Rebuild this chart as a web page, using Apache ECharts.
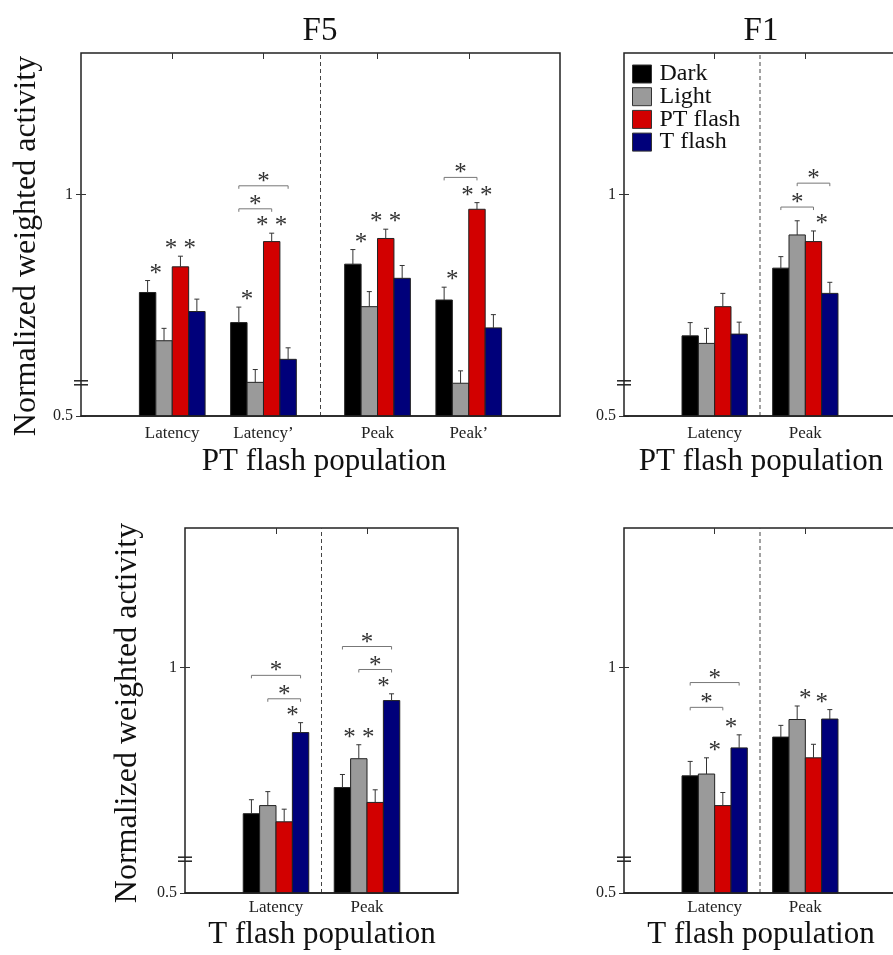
<!DOCTYPE html>
<html>
<head>
<meta charset="utf-8">
<title>Normalized weighted activity – F5 / F1</title>
<script src="https://cdn.jsdelivr.net/npm/echarts@6/dist/echarts.min.js"></script>
<style>
  html, body { margin: 0; padding: 0; background: #ffffff; }
  #chart { width: 893px; height: 955px; }
</style>
</head>
<body>
<div id="chart"></div>
<script>
// ---- condition names ----
const conditions = ['Dark', 'Light', 'PT flash', 'T flash'];

// ---- y axis tick labels ----
const yTickValues = [0.5, 1];
const yTickLabels = ['0.5', '1'];

// ---- F5, PT flash population ----
const f5PtCategories = ['Latency', 'Latency’', 'Peak', 'Peak’'];
const f5PtDark     = [0.779, 0.711, 0.843, 0.762];
const f5PtLight    = [0.670, 0.576, 0.747, 0.574];
const f5PtPT       = [0.837, 0.894, 0.901, 0.967];
const f5PtT        = [0.736, 0.628, 0.811, 0.699];
const f5PtDarkErr  = [0.027, 0.035, 0.033, 0.029];
const f5PtLightErr = [0.028, 0.029, 0.034, 0.028];
const f5PtPTErr    = [0.024, 0.019, 0.021, 0.015];
const f5PtTErr     = [0.028, 0.026, 0.029, 0.030];
// [category, condition, side (-1 left edge, 0 centre, 1 right edge), text]
const f5PtMarks = [[0, 0, 1, '*'], [0, 2, 0, '* *'], [1, 0, 1, '*'], [1, 2, 0, '* *'],
                   [2, 0, 1, '*'], [2, 2, 0, '* *'], [3, 0, 1, '*'], [3, 2, 0, '* *']];
// [category, from condition, to condition, level, text]
const f5PtBrackets = [[1, 0, 3, 1.020, '*'], [1, 0, 2, 0.968, '*'], [3, 0, 2, 1.039, '*']];

// ---- F1, PT flash population ----
const f1PtCategories = ['Latency', 'Peak'];
const f1PtDark     = [0.681, 0.834];
const f1PtLight    = [0.664, 0.909];
const f1PtPT       = [0.747, 0.894];
const f1PtT        = [0.685, 0.777];
const f1PtDarkErr  = [0.030, 0.026];
const f1PtLightErr = [0.034, 0.032];
const f1PtPTErr    = [0.030, 0.024];
const f1PtTErr     = [0.027, 0.025];
const f1PtMarks = [[1, 2, 1, '*']];
const f1PtBrackets = [[1, 1, 3, 1.026, '*'], [1, 0, 2, 0.972, '*']];

// ---- F5, T flash population ----
const f5TCategories = ['Latency', 'Peak'];
const f5TDark     = [0.676, 0.734];
const f5TLight    = [0.694, 0.798];
const f5TPT       = [0.658, 0.701];
const f5TT        = [0.856, 0.927];
const f5TDarkErr  = [0.031, 0.029];
const f5TLightErr = [0.031, 0.031];
const f5TPTErr    = [0.028, 0.028];
const f5TTErr     = [0.022, 0.015];
const f5TMarks = [[0, 3, -1, '*'], [1, 1, 0, '* *'], [1, 3, -1, '*']];
const f5TBrackets = [[0, 0, 3, 0.983, '*'], [0, 1, 3, 0.931, '*'],
                     [1, 0, 3, 1.047, '*'], [1, 1, 3, 0.996, '*']];

// ---- F1, T flash population ----
const f1TCategories = ['Latency', 'Peak'];
const f1TDark     = [0.760, 0.846];
const f1TLight    = [0.764, 0.885];
const f1TPT       = [0.694, 0.800];
const f1TT        = [0.822, 0.886];
const f1TDarkErr  = [0.032, 0.026];
const f1TLightErr = [0.036, 0.030];
const f1TPTErr    = [0.029, 0.030];
const f1TTErr     = [0.029, 0.021];
const f1TMarks = [[0, 1, 1, '*'], [0, 3, -1, '*'], [1, 1, 1, '*'], [1, 3, -1, '*']];
const f1TBrackets = [[0, 0, 3, 0.967, '*'], [0, 0, 2, 0.912, '*']];

// ---- styling / layout ----
const FONT = '"Liberation Serif", "Times New Roman", serif';
const COLORS = ['#000000', '#9a9a9a', '#d20000', '#00007a'];
const BAR_W = 0.18;          // width of one bar in x units
const Y_MIN = 0.5;
const BREAK_AT = 0.575;       // axis break marker
const STAR_FONT = '25px ' + FONT;

// the right-hand panels run past the right edge of the canvas
const panels = [
  { grid: { left: 81, top: 53, width: 479, height: 363 }, xMax: 5.25, yMax: 1.32,
    positions: [1, 2, 3.25, 4.25], divider: 2.625, labelMargin: 9,
    categories: f5PtCategories,
    means: [f5PtDark, f5PtLight, f5PtPT, f5PtT],
    errs: [f5PtDarkErr, f5PtLightErr, f5PtPTErr, f5PtTErr],
    marks: f5PtMarks, brackets: f5PtBrackets },
  { grid: { left: 624, top: 53, width: 272, height: 363 }, xMax: 3, yMax: 1.32,
    positions: [1, 2], divider: 1.5, labelMargin: 9,
    categories: f1PtCategories,
    means: [f1PtDark, f1PtLight, f1PtPT, f1PtT],
    errs: [f1PtDarkErr, f1PtLightErr, f1PtPTErr, f1PtTErr],
    marks: f1PtMarks, brackets: f1PtBrackets },
  { grid: { left: 185, top: 528, width: 273, height: 365 }, xMax: 3, yMax: 1.31,
    positions: [1, 2], divider: 1.5, labelMargin: 6,
    categories: f5TCategories,
    means: [f5TDark, f5TLight, f5TPT, f5TT],
    errs: [f5TDarkErr, f5TLightErr, f5TPTErr, f5TTErr],
    marks: f5TMarks, brackets: f5TBrackets },
  { grid: { left: 624, top: 528, width: 272, height: 365 }, xMax: 3, yMax: 1.31,
    positions: [1, 2], divider: 1.5, labelMargin: 6,
    categories: f1TCategories,
    means: [f1TDark, f1TLight, f1TPT, f1TT],
    errs: [f1TDarkErr, f1TLightErr, f1TPTErr, f1TTErr],
    marks: f1TMarks, brackets: f1TBrackets }
];

const grids = [], xAxes = [], yAxes = [], series = [];

function barX(panel, cat, cond) {
  return panel.positions[cat] + (cond - 1.5) * BAR_W;
}

panels.forEach((panel, p) => {
  grids.push(Object.assign({ show: true, borderColor: '#222', borderWidth: 1.5,
                             backgroundColor: 'transparent', outerBoundsMode: 'none',
                             containLabel: false }, panel.grid));
  const xi = xAxes.length, yi = yAxes.length;

  // bottom x axis with category labels
  xAxes.push({
    type: 'value', gridIndex: p, min: 0, max: panel.xMax, position: 'bottom', z: 5,
    axisLine: { show: true, onZero: false, lineStyle: { color: '#222', width: 1.5 } },
    axisTick: { show: false }, splitLine: { show: false },
    axisLabel: {
      customValues: panel.positions, margin: panel.labelMargin,
      fontFamily: FONT, fontSize: 17, color: '#222',
      formatter: v => panel.categories[panel.positions.indexOf(v)] || ''
    }
  });
  // top x axis: inward ticks only
  xAxes.push({
    type: 'value', gridIndex: p, min: 0, max: panel.xMax, position: 'top',
    axisLine: { show: false }, splitLine: { show: false }, axisLabel: { show: false },
    axisTick: { show: true, inside: true, length: 6, customValues: panel.positions,
                lineStyle: { color: '#333', width: 1 } }
  });
  // left y axis
  yAxes.push({
    type: 'value', gridIndex: p, min: Y_MIN, max: panel.yMax, position: 'left',
    axisLine: { show: false }, splitLine: { show: false },
    axisTick: { show: true, inside: true, length: 5, customValues: yTickValues,
                lineStyle: { color: '#333', width: 1 } },
    axisLabel: { customValues: yTickValues, margin: 8, fontFamily: FONT, fontSize: 16,
                 color: '#222', formatter: v => yTickLabels[yTickValues.indexOf(v)] }
  });
  // right y axis: inward ticks only
  yAxes.push({
    type: 'value', gridIndex: p, min: Y_MIN, max: panel.yMax, position: 'right',
    axisLine: { show: false }, splitLine: { show: false }, axisLabel: { show: false },
    axisTick: { show: true, inside: true, length: 5, customValues: yTickValues,
                lineStyle: { color: '#333', width: 1 } }
  });

  // bars with error bars, one series per condition
  conditions.forEach((name, c) => {
    series.push({
      type: 'custom', name: name, xAxisIndex: xi, yAxisIndex: yi, z: 3,
      itemStyle: { color: COLORS[c], borderColor: '#222', borderWidth: 1 },
      encode: { x: 0, y: 1 },
      data: panel.means[c].map((v, i) => [barX(panel, i, c), v, panel.errs[c][i]]),
      renderItem: (params, api) => {
        const x = api.value(0), v = api.value(1), e = api.value(2);
        const tl = api.coord([x - BAR_W / 2, v]);
        const br = api.coord([x + BAR_W / 2, Y_MIN]);
        const top = api.coord([x, v]);
        const et = api.coord([x, v + e]);
        return {
          type: 'group',
          children: [
            { type: 'rect',
              shape: { x: tl[0], y: tl[1], width: br[0] - tl[0], height: br[1] - tl[1] },
              style: { fill: COLORS[c], stroke: '#222', lineWidth: 1 } },
            { type: 'line', shape: { x1: top[0], y1: top[1], x2: et[0], y2: et[1] },
              style: { stroke: '#333', lineWidth: 1 } },
            { type: 'line', shape: { x1: et[0] - 2.5, y1: et[1], x2: et[0] + 2.5, y2: et[1] },
              style: { stroke: '#333', lineWidth: 1 } }
          ]
        };
      }
    });
  });

  // asterisks above single bars
  series.push({
    type: 'custom', xAxisIndex: xi, yAxisIndex: yi, z: 4, silent: true,
    encode: { x: 0, y: 1 },
    data: panel.marks.map(m => [barX(panel, m[0], m[1]) + m[2] * BAR_W / 2,
                               panel.means[m[1]][m[0]] + panel.errs[m[1]][m[0]]]),
    renderItem: (params, api) => {
      const m = panel.marks[params.dataIndex];
      const pt = api.coord([api.value(0), api.value(1)]);
      return { type: 'text', x: pt[0], y: pt[1] - 6.5,
               style: { text: m[3], fill: '#333', font: STAR_FONT,
                        align: 'center', verticalAlign: 'middle' } };
    }
  });

  // comparison brackets
  series.push({
    type: 'custom', xAxisIndex: xi, yAxisIndex: yi, z: 4, silent: true,
    encode: { x: 0, y: 1 },
    data: panel.brackets.map(b => [barX(panel, b[0], b[1]), b[3], barX(panel, b[0], b[2])]),
    renderItem: (params, api) => {
      const b = panel.brackets[params.dataIndex];
      const a = api.coord([api.value(0), api.value(1)]);
      const z = api.coord([api.value(2), api.value(1)]);
      const st = { stroke: '#777', lineWidth: 1 };
      return {
        type: 'group',
        children: [
          { type: 'line', shape: { x1: a[0], y1: a[1], x2: z[0], y2: z[1] }, style: st },
          { type: 'line', shape: { x1: a[0], y1: a[1], x2: a[0], y2: a[1] + 3 }, style: st },
          { type: 'line', shape: { x1: z[0], y1: z[1], x2: z[0], y2: z[1] + 3 }, style: st },
          { type: 'text', x: (a[0] + z[0]) / 2, y: a[1] - 3.5,
            style: { text: b[4], fill: '#333', font: STAR_FONT,
                     align: 'center', verticalAlign: 'middle' } }
        ]
      };
    }
  });

  // dashed divider and axis break marker
  series.push({
    type: 'custom', xAxisIndex: xi, yAxisIndex: yi, z: 4, silent: true,
    encode: { x: 0, y: 1 },
    data: [[panel.divider, BREAK_AT]],
    renderItem: (params, api) => {
      const d0 = api.coord([api.value(0), Y_MIN]);
      const d1 = api.coord([api.value(0), panel.yMax]);
      const bk = api.coord([0, api.value(1)]);
      const st = { stroke: '#222', lineWidth: 1.5 };
      return {
        type: 'group',
        children: [
          { type: 'line', shape: { x1: d0[0], y1: d0[1], x2: d1[0], y2: d1[1] },
            style: { stroke: '#444', lineWidth: 1, lineDash: [4, 3] } },
          { type: 'line', shape: { x1: bk[0] - 7, y1: bk[1] - 2, x2: bk[0] + 7, y2: bk[1] - 2 }, style: st },
          { type: 'line', shape: { x1: bk[0] - 7, y1: bk[1] + 2, x2: bk[0] + 7, y2: bk[1] + 2 }, style: st }
        ]
      };
    }
  });
});

const textStyle = (size) => ({ fill: '#111', font: size + 'px ' + FONT,
                               align: 'center', verticalAlign: 'middle' });

const chart = echarts.init(document.getElementById('chart'), null, { renderer: 'canvas' });
chart.setOption({
  animation: false,
  backgroundColor: '#ffffff',
  grid: grids,
  xAxis: xAxes,
  yAxis: yAxes,
  series: series,
  legend: {
    data: conditions.map((n, c) => ({ name: n, icon: 'rect',
                                      itemStyle: { color: COLORS[c], borderColor: '#333', borderWidth: 1 } })),
    orient: 'vertical', left: 632, top: 62, padding: 0,
    itemWidth: 19, itemHeight: 18, itemGap: -1.3, selectedMode: false,
    textStyle: { fontFamily: FONT, fontSize: 24, lineHeight: 18, color: '#111',
                 padding: [0, 0, 0, 3] }
  },
  graphic: [
    { type: 'text', x: 320, y: 31, style: Object.assign({ text: 'F5' }, textStyle(33)) },
    { type: 'text', x: 761, y: 31, style: Object.assign({ text: 'F1' }, textStyle(33)) },
    { type: 'text', x: 26.5, y: 246, rotation: Math.PI / 2,
      style: Object.assign({ text: 'Normalized weighted activity' }, textStyle(32)) },
    { type: 'text', x: 127.5, y: 713, rotation: Math.PI / 2,
      style: Object.assign({ text: 'Normalized weighted activity' }, textStyle(32)) },
    { type: 'text', x: 324, y: 462, style: Object.assign({ text: 'PT flash population' }, textStyle(31)) },
    { type: 'text', x: 761, y: 462, style: Object.assign({ text: 'PT flash population' }, textStyle(31)) },
    { type: 'text', x: 322, y: 935, style: Object.assign({ text: 'T flash population' }, textStyle(31)) },
    { type: 'text', x: 761, y: 935, style: Object.assign({ text: 'T flash population' }, textStyle(31)) }
  ]
});
</script>
</body>
</html>
